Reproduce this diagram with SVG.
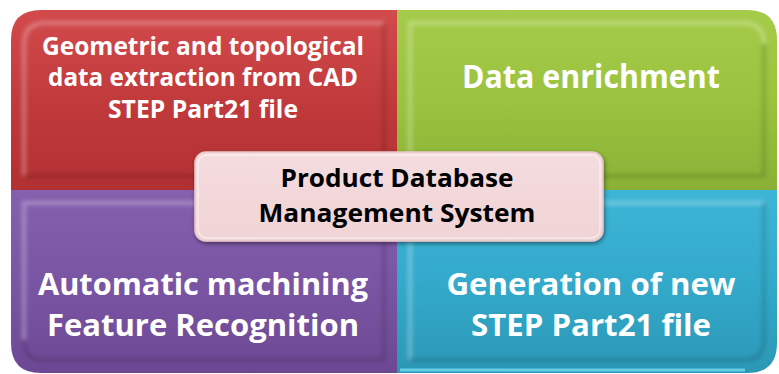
<svg xmlns="http://www.w3.org/2000/svg" width="779" height="374" viewBox="0 0 779 374">
<defs>
<linearGradient id="gRed" x1="0" y1="0" x2="0" y2="1"><stop offset="0" stop-color="#D24A4C"/><stop offset="0.5" stop-color="#C13A3C"/><stop offset="1" stop-color="#B23032"/></linearGradient>
<linearGradient id="gGreen" x1="0" y1="0" x2="0" y2="1"><stop offset="0" stop-color="#A5CB4A"/><stop offset="0.5" stop-color="#9BC33F"/><stop offset="1" stop-color="#8AB135"/></linearGradient>
<linearGradient id="gPurple" x1="0" y1="0" x2="0" y2="1"><stop offset="0" stop-color="#8460AE"/><stop offset="0.5" stop-color="#7A55A4"/><stop offset="1" stop-color="#6C4894"/></linearGradient>
<linearGradient id="gBlue" x1="0" y1="0" x2="0" y2="1"><stop offset="0" stop-color="#3DB5D6"/><stop offset="0.5" stop-color="#33AACB"/><stop offset="1" stop-color="#2B97B6"/></linearGradient>
<linearGradient id="gCenter" x1="0" y1="0" x2="0" y2="1"><stop offset="0" stop-color="#F4DCDE"/><stop offset="1" stop-color="#F0D3D5"/></linearGradient>
<filter id="sh" x="-10%" y="-20%" width="120%" height="150%"><feDropShadow dx="1" dy="2" stdDeviation="2" flood-color="#000" flood-opacity="0.45"/></filter>
<filter id="blur1"><feGaussianBlur stdDeviation="2"/></filter>
</defs>
<style>
.lbl{font-family:"Open Sans","Liberation Sans",sans-serif;font-weight:bold;fill:#FFFFFF;text-anchor:middle}
.ctr{font-family:"Open Sans","Liberation Sans",sans-serif;font-weight:bold;fill:#000000;text-anchor:middle}
.bevL{fill:none;stroke:#FFFFFF;stroke-opacity:0.3;stroke-width:4;filter:url(#blur1)}
.bevD{fill:none;stroke:#000000;stroke-opacity:0.15;stroke-width:4;filter:url(#blur1)}
</style>
<g id="node-red">
<path d="M11,190 V40 Q11,10 41,10 H397 V190 Z" fill="url(#gRed)"/>
<path d="M24,176 V44 Q24,23 45,23 H384" class="bevL"/>
<path d="M24,176 H384 V23" class="bevD"/>
<text class="lbl" font-size="25.5"><tspan x="203" y="55" textLength="322" lengthAdjust="spacingAndGlyphs">Geometric and topological</tspan><tspan x="203" y="86" textLength="310" lengthAdjust="spacingAndGlyphs">data extraction from CAD</tspan><tspan x="203" y="118" textLength="190" lengthAdjust="spacingAndGlyphs">STEP Part21 file</tspan></text>
</g>
<g id="node-green">
<path d="M397,10 H747 Q777,10 777,40 V190 H397 Z" fill="url(#gGreen)"/>
<path d="M410,176 V23 H743 Q764,23 764,44" class="bevL"/>
<path d="M410,176 H764 V44" class="bevD"/>
<text class="lbl" font-size="32" x="591" y="88" textLength="258" lengthAdjust="spacingAndGlyphs">Data enrichment</text>
</g>
<g id="node-purple">
<path d="M11,190 H397 V373 H41 Q11,373 11,343 Z" fill="url(#gPurple)"/>
<path d="M24,340 V203 H384" class="bevL"/>
<path d="M24,340 Q24,360 44,360 H384 V203" class="bevD"/>
<text class="lbl" font-size="31"><tspan x="203" y="295" textLength="330" lengthAdjust="spacingAndGlyphs">Automatic machining</tspan><tspan x="203" y="336" textLength="312" lengthAdjust="spacingAndGlyphs">Feature Recognition</tspan></text>
</g>
<g id="node-blue">
<path d="M397,190 H777 V343 Q777,373 747,373 H397 Z" fill="url(#gBlue)"/>
<path d="M410,360 V203 H764" class="bevL"/>
<path d="M410,360 H744 Q764,360 764,340 V203" class="bevD"/>
<path d="M400,370 H745" stroke="#7FE6F8" stroke-width="3" fill="none" stroke-opacity="0.7"/>
<text class="lbl" font-size="31"><tspan x="591" y="295" textLength="289" lengthAdjust="spacingAndGlyphs">Generation of new</tspan><tspan x="591" y="336" textLength="240" lengthAdjust="spacingAndGlyphs">STEP Part21 file</tspan></text>
</g>
<g id="connectors"></g>
<g id="node-center">
<rect x="195" y="152" width="408" height="89" rx="11" fill="url(#gCenter)" stroke="#E8C7CA" stroke-width="1.5" filter="url(#sh)"/>
<rect x="198" y="155" width="402" height="83" rx="9" fill="none" stroke="#FFFFFF" stroke-opacity="0.5" stroke-width="1.5"/>
<text class="ctr" font-size="25.5"><tspan x="397" y="187" textLength="233" lengthAdjust="spacingAndGlyphs">Product Database</tspan><tspan x="397" y="222" textLength="277" lengthAdjust="spacingAndGlyphs">Management System</tspan></text>
</g>
</svg>
